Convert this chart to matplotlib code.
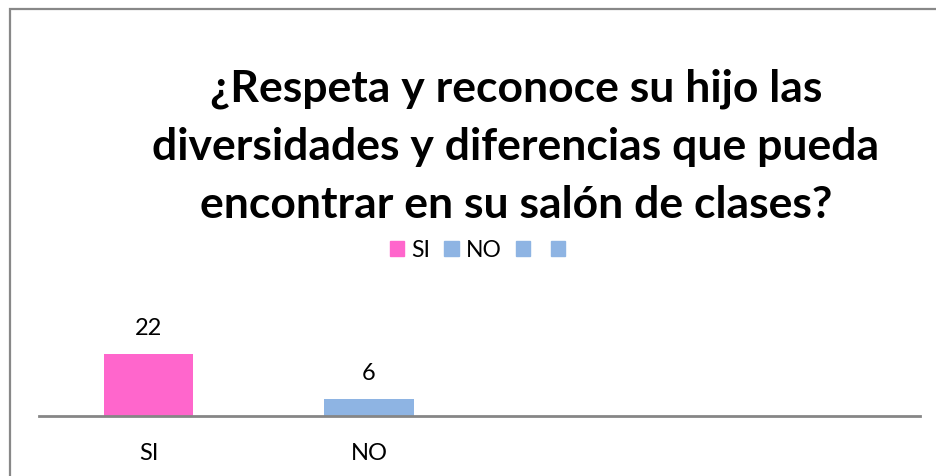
import matplotlib
matplotlib.use("Agg")
import matplotlib.pyplot as plt
from matplotlib.patches import Rectangle
import numpy as np

categories = ["SI", "NO", "", ""]
values = [22, 6, np.nan, np.nan]
colors = ["#FF66CC", "#8EB4E3", "#8EB4E3", "#8EB4E3"]
title = "¿Respeta y reconoce su hijo las\ndiversidades y diferencias que pueda\nencontrar en su salón de clases?"

plt.rcParams['font.family'] = ['Lato', 'DejaVu Sans']

W, H = 936, 477
fig = plt.figure(figsize=(W/100, H/100), dpi=100)

# outer border
fig.patches.append(Rectangle((9.5/W, -0.1), 1.2, 1 - 9.5/H + 0.1, transform=fig.transFigure,
                             fill=False, edgecolor="#888888", linewidth=1.6))

x0, x1 = 38.5/W, 920/W
yb = 1 - 416.5/H
ymax = 25
hpx = ymax * (62/22)
ax = fig.add_axes([x0, yb, x1 - x0, hpx/H])
x = np.arange(len(categories))
bars = ax.bar(x, values, width=0.405, color=colors, label=categories)
ax.set_xlim(-0.5, len(categories) - 0.5)
ax.set_ylim(0, ymax)
for s in ["top", "left", "right"]:
    ax.spines[s].set_visible(False)
ax.spines["bottom"].set_color("#868686")
ax.spines["bottom"].set_linewidth(2)
ax.set_yticks([])
ax.set_xticks(x)
ax.set_xticklabels(categories, fontsize=17)
ax.tick_params(axis="x", length=0, pad=19)
ax.patch.set_visible(False)
for b, v in zip(bars, values):
    if not np.isnan(v):
        ax.annotate(f"{v:g}", (b.get_x() + b.get_width()/2, v), xytext=(0, 11),
                    textcoords="offset points", ha="center", va="bottom", fontsize=17)

handles = [Rectangle((0, 0), 1, 1, color=c) for c in colors]
fig.legend(handles, categories, loc="center", bbox_to_anchor=(481/W, 1 - 251/H), ncol=4,
           frameon=False, fontsize=16.5, handlelength=0.62, handleheight=0.62,
           handletextpad=0.3, columnspacing=0.62)

fig.text(516/W, 1 - 147/H, title, ha="center", va="center", fontsize=32, fontweight="bold",
         linespacing=1.55)

fig.savefig("out.png", dpi=100)
